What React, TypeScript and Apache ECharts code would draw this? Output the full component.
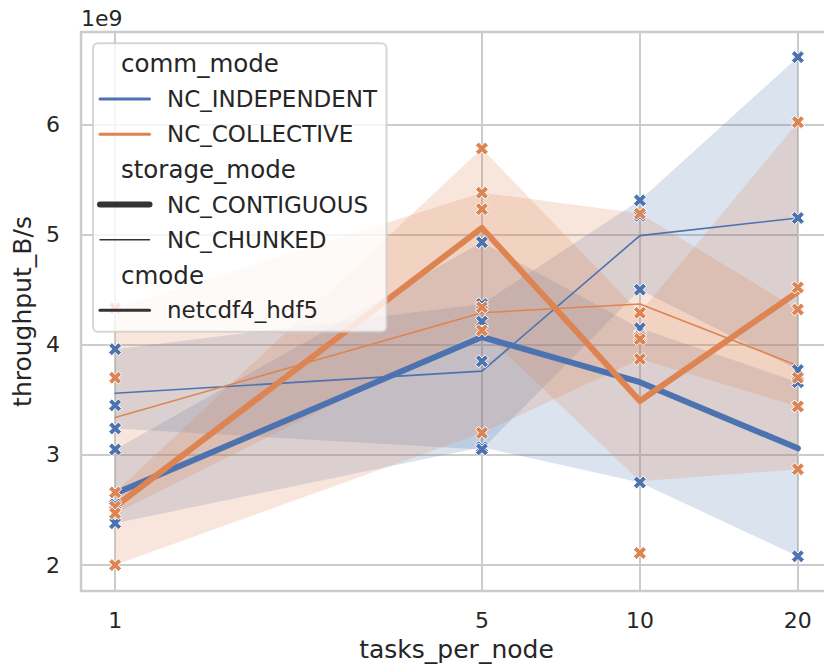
import React, { useEffect, useRef } from "react";
import * as echarts from "echarts";

// x positions (log-scaled axis)
const tasksPerNode = [1, 5, 10, 20];
const xTickLabels = ["1", "5", "10", "20"];
const yTickValues = [2e9, 3e9, 4e9, 5e9, 6e9];

const commModes = ["NC_INDEPENDENT", "NC_COLLECTIVE"];
const storageModes = ["NC_CONTIGUOUS", "NC_CHUNKED"];
const cmodes = ["netcdf4_hdf5"];

// mean throughput (B/s) per tasks_per_node
const indepContigMean = [2.65e9, 4.07e9, 3.66e9, 3.06e9];
const indepChunkedMean = [3.56e9, 3.76e9, 4.99e9, 5.15e9];
const collContigMean = [2.53e9, 5.06e9, 3.49e9, 4.48e9];
const collChunkedMean = [3.34e9, 4.29e9, 4.37e9, 3.81e9];

// 95% confidence interval bounds
const indepContigLow = [2.38e9, 3.07e9, 2.75e9, 2.08e9];
const indepContigHigh = [3.05e9, 4.93e9, 4.15e9, 3.66e9];
const indepChunkedLow = [3.24e9, 3.05e9, 4.5e9, 3.77e9];
const indepChunkedHigh = [3.96e9, 4.37e9, 5.31e9, 6.61e9];
const collContigLow = [2.47e9, 4.13e9, 2.76e9, 2.87e9];
const collContigHigh = [2.66e9, 5.78e9, 4.29e9, 6.02e9];
const collChunkedLow = [2.0e9, 3.2e9, 3.87e9, 3.44e9];
const collChunkedHigh = [4.33e9, 5.38e9, 5.19e9, 4.32e9];

// individual runs, one row per tasks_per_node value
const indepRuns = [
  [3.96e9, 3.45e9, 3.24e9, 3.05e9, 2.55e9, 2.38e9],
  [4.93e9, 4.37e9, 4.21e9, 3.85e9, 3.07e9, 3.05e9],
  [5.31e9, 5.17e9, 4.5e9, 4.15e9, 4.08e9, 2.75e9],
  [6.61e9, 5.15e9, 3.77e9, 3.66e9, 3.44e9, 2.08e9],
];
const collRuns = [
  [4.33e9, 3.7e9, 2.66e9, 2.53e9, 2.47e9, 2.0e9],
  [5.78e9, 5.38e9, 5.23e9, 4.34e9, 4.13e9, 3.2e9],
  [5.19e9, 4.29e9, 4.07e9, 4.05e9, 3.87e9, 2.11e9],
  [6.02e9, 4.52e9, 4.32e9, 3.7e9, 3.44e9, 2.87e9],
];

const BLUE = "#4c72b0";
const ORANGE = "#dd8452";
const DARK = "#333333";
const TEXT = "#262626";
const GRID = "#cccccc";
const FONT = "DejaVu Sans";

// filled "X" marker
const X_MARKER = "path://M0,3L3,0L6,3L9,0L12,3L9,6L12,9L9,12L6,9L3,12L0,9L3,6Z";

const lg = (t: number) => Math.log10(t);
const xSpan = lg(tasksPerNode[tasksPerNode.length - 1]) - lg(tasksPerNode[0]);
const xMin = lg(tasksPerNode[0]) - 0.05 * xSpan;
const xMax = lg(tasksPerNode[tasksPerNode.length - 1]) + 0.05 * xSpan;

function band(lo: number[], hi: number[], color: string) {
  return {
    type: "custom",
    silent: true,
    z: 1,
    clip: true,
    data: tasksPerNode.map((t, i) => [lg(t), lo[i], hi[i]]),
    encode: { x: 0, y: [1, 2] },
    renderItem: (params: any, api: any) => {
      if (params.dataIndex !== 0) return null;
      const pts: number[][] = [];
      tasksPerNode.forEach((t, i) => pts.push(api.coord([lg(t), hi[i]])));
      for (let i = tasksPerNode.length - 1; i >= 0; i--) {
        pts.push(api.coord([lg(tasksPerNode[i]), lo[i]]));
      }
      return {
        type: "polygon",
        shape: { points: pts },
        style: { fill: color, opacity: 0.2 },
      };
    },
  };
}

function meanLine(mean: number[], color: string, width: number) {
  return {
    type: "line",
    z: 2,
    symbol: "none",
    silent: true,
    data: tasksPerNode.map((t, i) => [lg(t), mean[i]]),
    lineStyle: { color, width, cap: "round", join: "round" },
  };
}

function runs(rows: number[][], color: string) {
  return {
    type: "scatter",
    z: 3,
    symbol: X_MARKER,
    symbolSize: 13,
    silent: true,
    data: tasksPerNode.flatMap((t, i) => rows[i].map((v) => [lg(t), v])),
    itemStyle: { color, borderColor: "#ffffff", borderWidth: 1, opacity: 1 },
  };
}

function legendGraphic() {
  const left = 93;
  const top = 43.3;
  const rowY = (i: number) => 63.8 + 35.2 * i;
  const handleX1 = 100;
  const handleX2 = 149.5;
  const titleX = 121;
  const labelX = 167;
  const Z = 100;
  const els: any[] = [
    {
      type: "rect",
      z: Z,
      shape: { x: left, y: top, width: 293.5, height: 288.5, r: 5 },
      style: { fill: "rgba(255,255,255,0.8)", stroke: "rgba(204,204,204,0.8)", lineWidth: 2 },
    },
  ];
  const rows: { title?: string; label?: string; color?: string; width?: number }[] = [
    { title: "comm_mode" },
    { label: commModes[0], color: BLUE, width: 3 },
    { label: commModes[1], color: ORANGE, width: 3 },
    { title: "storage_mode" },
    { label: storageModes[0], color: DARK, width: 6 },
    { label: storageModes[1], color: DARK, width: 1.5 },
    { title: "cmode" },
    { label: cmodes[0], color: DARK, width: 3 },
  ];
  rows.forEach((r, i) => {
    const y = rowY(i);
    if (r.title) {
      els.push({
        type: "text",
        z: Z + 1,
        x: titleX,
        y,
        style: { text: r.title, fill: TEXT, font: `24.5px "${FONT}"`, textAlign: "left", textVerticalAlign: "middle" },
      });
    } else {
      els.push({
        type: "line",
        z: Z + 1,
        shape: { x1: handleX1, y1: y, x2: handleX2, y2: y },
        style: { stroke: r.color, lineWidth: r.width, lineCap: "round" },
      });
      els.push({
        type: "text",
        z: Z + 1,
        x: labelX,
        y,
        style: { text: r.label, fill: TEXT, font: `23px "${FONT}"`, textAlign: "left", textVerticalAlign: "middle" },
      });
    }
  });
  return els;
}

export default function App() {
  const ref = useRef<HTMLDivElement>(null);

  useEffect(() => {
    if (!ref.current) return;
    const chart = echarts.init(ref.current, undefined, { renderer: "svg" });
    const option: any = {
      animation: false,
      backgroundColor: "#ffffff",
      textStyle: { fontFamily: FONT },
      grid: {
        left: 81,
        top: 32,
        right: -8,
        bottom: 77,
        show: true,
        borderColor: GRID,
        borderWidth: 2.5,
        backgroundColor: "transparent",
        outerBoundsMode: "none",
      },
      xAxis: {
        type: "value",
        min: xMin,
        max: xMax,
        name: "tasks_per_node",
        nameLocation: "middle",
        nameGap: 46,
        nameTextStyle: { fontSize: 25, color: TEXT, fontFamily: FONT },
        axisLine: { show: false },
        axisTick: { show: false, customValues: tasksPerNode.map(lg) },
        axisLabel: {
          customValues: tasksPerNode.map(lg),
          formatter: (v: number) => xTickLabels[tasksPerNode.findIndex((t) => Math.abs(lg(t) - v) < 1e-6)] ?? "",
          fontSize: 22,
          color: TEXT,
          margin: 18,
          fontFamily: FONT,
        },
        splitLine: { show: true, lineStyle: { color: GRID, width: 2 } },
      },
      yAxis: {
        type: "value",
        min: 1.765e9,
        max: 6.838e9,
        name: "throughput_B/s",
        nameLocation: "middle",
        nameGap: 42,
        nameRotate: 90,
        nameTextStyle: { fontSize: 25, color: TEXT, fontFamily: FONT },
        axisLine: { show: false },
        axisTick: { show: false, customValues: yTickValues },
        axisLabel: {
          customValues: yTickValues,
          formatter: (v: number) => String(Math.round(v / 1e9)),
          fontSize: 22,
          color: TEXT,
          margin: 21,
          fontFamily: FONT,
        },
        splitLine: { show: true, lineStyle: { color: GRID, width: 2 } },
      },
      graphic: {
        elements: [
          {
            type: "text",
            x: 81,
            y: 18,
            style: { text: "1e9", fill: TEXT, font: `22px "${FONT}"`, textAlign: "left", textVerticalAlign: "middle" },
          },
          ...legendGraphic(),
        ],
      },
      series: [
        band(indepContigLow, indepContigHigh, BLUE),
        band(indepChunkedLow, indepChunkedHigh, BLUE),
        band(collContigLow, collContigHigh, ORANGE),
        band(collChunkedLow, collChunkedHigh, ORANGE),
        meanLine(indepContigMean, BLUE, 6),
        meanLine(indepChunkedMean, BLUE, 1.6),
        meanLine(collContigMean, ORANGE, 6),
        meanLine(collChunkedMean, ORANGE, 1.6),
        runs(indepRuns, BLUE),
        runs(collRuns, ORANGE),
      ],
    };
    chart.setOption(option);
    return () => chart.dispose();
  }, []);

  return (
    <div
      ref={ref}
      style={{ position: "fixed", left: 0, top: 0, width: 824, height: 668, background: "#ffffff" }}
    />
  );
}
